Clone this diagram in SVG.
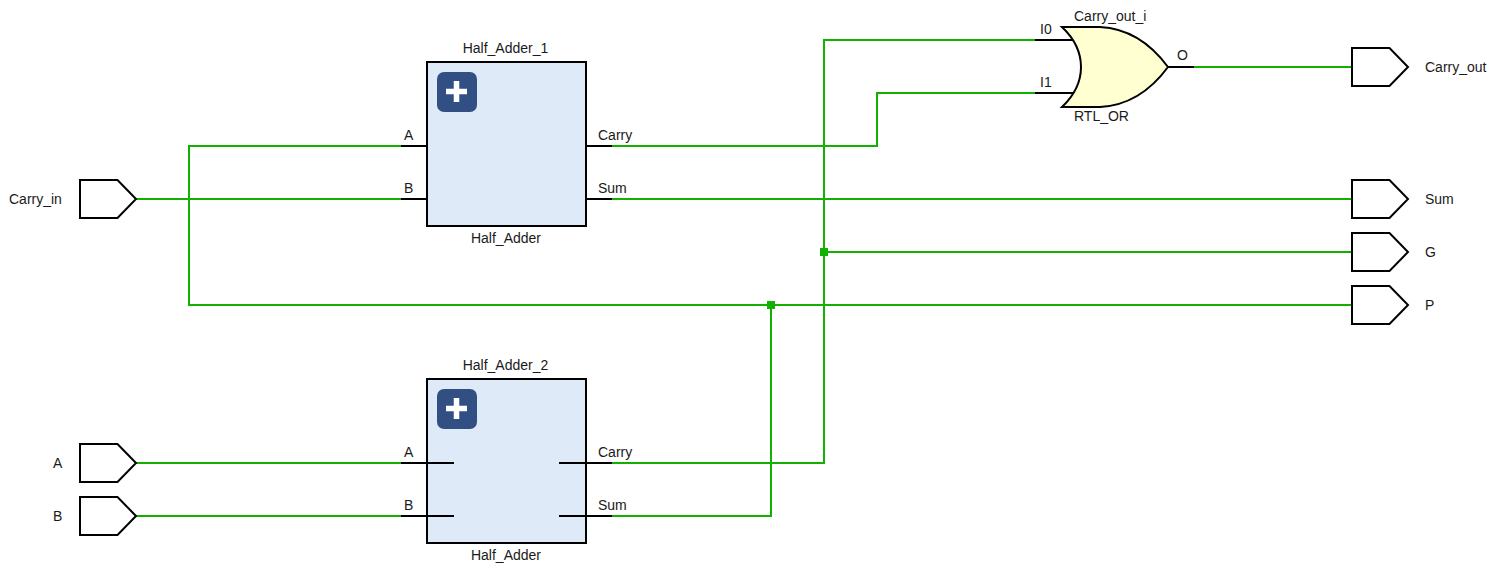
<svg xmlns="http://www.w3.org/2000/svg" width="1493" height="568" viewBox="0 0 1493 568">
<style>
text{font-family:"Liberation Sans",Arial,sans-serif;font-size:14px;fill:#1a1a1a}
.m{text-anchor:middle}
.box{fill:#deeaf8;stroke:#000;stroke-width:2}
.pad{fill:#fff;stroke:#000;stroke-width:2}
.gate{fill:#ffffd2;stroke:#000;stroke-width:2}
.stub{fill:none;stroke:#000;stroke-width:2}
.wire{fill:none;stroke:#12b000;stroke-width:2}
.dot{fill:#12b000}
.ico{fill:#324f84}
.plus{fill:#fff}
</style>
<defs>
<g id="pad"><path class="pad" d="M0 -19H37.500L56 0L37.500 19H0Z"/></g>
<g id="icon"><rect class="ico" width="40" height="40" rx="7"/><path class="plus" d="M16.750 9H22.250V16.750H30V22.250H22.250V30H16.750V22.250H9V16.750H16.750Z"/></g>
</defs>
<rect width="1493" height="568" fill="#fff"/>
<g id="connectors">
<path class="wire" d="M136 199H401"/>
<path class="wire" d="M401 146H189V305H1352"/>
<path class="wire" d="M612 146H877V93H1035"/>
<path class="wire" d="M612 199H1352"/>
<path class="wire" d="M1035 40H824V463H612"/>
<path class="wire" d="M824 252H1352"/>
<path class="wire" d="M612 516H771V305"/>
<path class="wire" d="M136 463H401"/>
<path class="wire" d="M136 516H401"/>
<path class="wire" d="M1194 67H1352"/>
<rect class="dot" x="767" y="301" width="8" height="8"/>
<rect class="dot" x="820" y="248" width="8" height="8"/>
</g>
<g id="Half_Adder_1">
<rect class="box" x="427" y="62" width="159" height="164"/>
<use href="#icon" x="437" y="72"/>
<path class="stub" d="M401 146H427M401 199H427M586 146H612M586 199H612"/>
<text class="m" x="505.500" y="53">Half_Adder_1</text>
<text class="m" x="506" y="243">Half_Adder</text>
<text x="404" y="140">A</text>
<text x="404" y="193">B</text>
<text x="598" y="140">Carry</text>
<text x="598" y="193">Sum</text>
</g>
<g id="Half_Adder_2">
<rect class="box" x="427" y="379" width="159" height="164"/>
<use href="#icon" x="437" y="389"/>
<path class="stub" d="M401 463H454M401 516H454M559 463H612M559 516H612"/>
<text class="m" x="505.500" y="370">Half_Adder_2</text>
<text class="m" x="506" y="560">Half_Adder</text>
<text x="404" y="457">A</text>
<text x="404" y="510">B</text>
<text x="598" y="457">Carry</text>
<text x="598" y="510">Sum</text>
</g>
<g id="Carry_out_i">
<path class="stub" d="M1035 40H1074M1035 93H1074M1168 67H1194"/>
<path class="gate" d="M1062 27Q1081 45 1081 67Q1081 89 1062 107H1100Q1140 105 1168 67Q1140 29 1100 27Z"/>
<text x="1074" y="21">Carry_out_i</text>
<text x="1074" y="121">RTL_OR</text>
<text x="1040" y="34">I0</text>
<text x="1040" y="87">I1</text>
<text x="1177" y="60">O</text>
</g>
<g id="port_Carry_in"><use href="#pad" x="80" y="199"/><text x="9" y="204">Carry_in</text></g>
<g id="port_A"><use href="#pad" x="80" y="463"/><text x="53" y="468">A</text></g>
<g id="port_B"><use href="#pad" x="80" y="516"/><text x="53" y="521">B</text></g>
<g id="port_Carry_out"><use href="#pad" x="1352" y="67"/><text x="1425" y="72">Carry_out</text></g>
<g id="port_Sum"><use href="#pad" x="1352" y="199"/><text x="1425" y="204">Sum</text></g>
<g id="port_G"><use href="#pad" x="1352" y="252"/><text x="1425" y="257">G</text></g>
<g id="port_P"><use href="#pad" x="1352" y="305"/><text x="1425" y="310">P</text></g>
</svg>
